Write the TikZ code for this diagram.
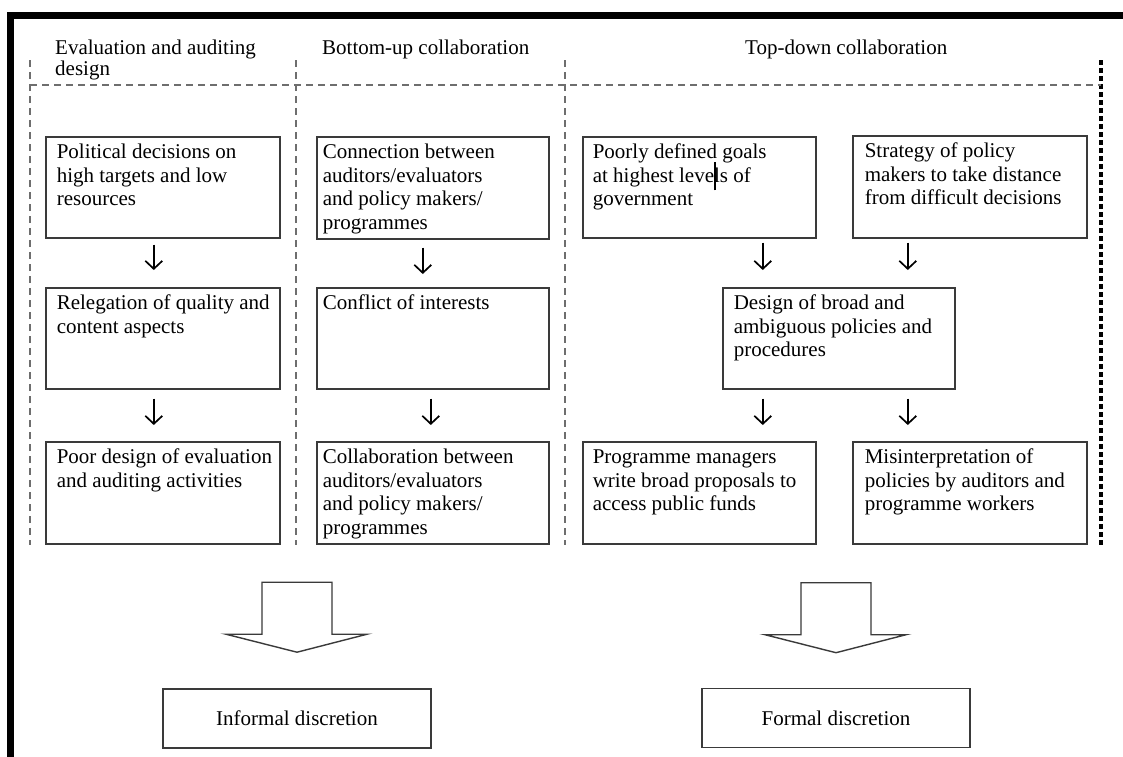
\documentclass[tikz,border=0pt]{standalone}
\usepackage{fontspec}
\setmainfont{Liberation Serif}
\usetikzlibrary{arrows.meta,calc}

\definecolor{boxline}{HTML}{3A3A3A}
\definecolor{sepline}{HTML}{6E6E6E}

% top-aligned box text: width, height, left indent, text
\newcommand\boxtext[4]{\parbox[c][#2][t]{#1}{\raggedright\leftskip=#3\relax
  \vspace*{5.5pt}\strut #4}}

\begin{document}
\begin{tikzpicture}[x=1pt,y=-1pt,
  every node/.style={font=\fontsize{21}{23.5}\selectfont, text=black},
  stepbox/.style={draw=boxline, line width=1.6pt, inner sep=0pt, anchor=north west},
  headtext/.style={inner sep=0pt, anchor=north west, align=left,
    font=\fontsize{21}{21.5}\selectfont},
  endbox/.style={draw=boxline, line width=1.6pt, inner sep=0pt,
    minimum width=268pt, minimum height=59pt},
  sarrow/.style={line width=1.7pt, draw=black,
    -{Straight Barb[length=8pt,width=17pt,line width=1.7pt]}},
  bigarrow/.style={draw=boxline, line width=1.4pt, fill=white, line join=miter},
  thinsep/.style={draw=sepline, line width=1.5pt, dash pattern=on 7pt off 5pt},
  thicksep/.style={draw=black, line width=4pt, dash pattern=on 5pt off 3pt},
]
\useasboundingbox (0,0) rectangle (1123,756);
\fill[white] (0,0) rectangle (1123,756);

% outer frame (top and left edges)
\draw[line width=7pt, line cap=rect] (10.5,770) -- (10.5,15.5) -- (1140,15.5);

% column separators
\draw[thinsep] (30,60) -- (30,545);
\draw[thinsep] (296,60) -- (296,545);
\draw[thinsep] (565,60) -- (565,545);
\draw[thicksep] (1101,60) -- (1101,545);
\draw[thinsep] (30,85) -- (1101,85);

% column headings
\node[headtext] (h1) at (55,39) {\strut Evaluation and auditing\\design};
\node[headtext] (h2) at (322,39) {\strut Bottom-up collaboration};
\node[headtext] (h3) at (745,39) {\strut Top-down collaboration};

% evaluation and auditing design
\node[stepbox] (p1) at (45,136) {\boxtext{234pt}{101pt}{11pt}{Political decisions on\\high targets and low\\resources}};
\node[stepbox] (p2) at (45,287) {\boxtext{234pt}{101pt}{11pt}{Relegation of quality and\\content aspects}};
\node[stepbox] (p3) at (45,441) {\boxtext{234pt}{102pt}{11pt}{Poor design of evaluation\\and auditing activities}};

% bottom-up collaboration
\node[stepbox] (c1) at (316,136) {\boxtext{232pt}{102pt}{6pt}{Connection between\\auditors/evaluators\\and policy makers/\\programmes}};
\node[stepbox] (c2) at (316,287) {\boxtext{232pt}{101pt}{6pt}{Conflict of interests}};
\node[stepbox] (c3) at (316,441) {\boxtext{232pt}{102pt}{6pt}{Collaboration between\\auditors/evaluators\\and policy makers/\\programmes}};

% top-down collaboration
\node[stepbox] (t1) at (582,136) {\boxtext{233pt}{101pt}{10pt}{Poorly defined goals\\at highest leve\rlap{\kern0.3pt\smash{\rule[-8pt]{1.4pt}{28pt}}}ls of\\government}};
\node[stepbox] (t2) at (852,135) {\boxtext{234pt}{102pt}{12pt}{Strategy of policy\\makers to take distance\\from difficult decisions}};
\node[stepbox] (tm) at (722,287) {\boxtext{232pt}{101pt}{11pt}{Design of broad and\\ambiguous policies and\\procedures}};
\node[stepbox] (b1) at (582,441) {\boxtext{233pt}{102pt}{10pt}{Programme managers\\write broad proposals to\\access public funds}};
\node[stepbox] (b2) at (852,441) {\boxtext{234pt}{102pt}{12pt}{Misinterpretation of\\policies by auditors and\\programme workers}};

% outcomes
\node[endbox] (inf) at (297,718.5) {Informal discretion};
\node[endbox] (frm) at (836,718) {Formal discretion};

% step arrows
\draw[sarrow] ([xshift=-9pt,yshift=-6pt]p1.south) -- ([xshift=-9pt,yshift=17pt]p2.north);
\draw[sarrow] ([xshift=-9pt,yshift=-9pt]p2.south) -- ([xshift=-9pt,yshift=16pt]p3.north);
\draw[sarrow] ([xshift=-10pt,yshift=-8pt]c1.south) -- ([xshift=-10pt,yshift=13pt]c2.north);
\draw[sarrow] ([xshift=-2pt,yshift=-9pt]c2.south) -- ([xshift=-2pt,yshift=16pt]c3.north);
\draw[sarrow] ([xshift=63.5pt,yshift=-4pt]t1.south) -- ([xshift=-76pt,yshift=17pt]tm.north);
\draw[sarrow] ([xshift=-62pt,yshift=-4pt]t2.south) -- ([xshift=69pt,yshift=17pt]tm.north);
\draw[sarrow] ([xshift=-76pt,yshift=-9pt]tm.south) -- ([xshift=63.5pt,yshift=16pt]b1.north);
\draw[sarrow] ([xshift=69pt,yshift=-9pt]tm.south) -- ([xshift=-62pt,yshift=16pt]b2.north);

% block arrows above the outcomes
\coordinate (ltip) at ($(inf.north)+(0,-36)$);
\coordinate (rtip) at ($(frm.north)+(0,-35)$);
\draw[bigarrow] ($(ltip)+(-35,-70)$) -- ($(ltip)+(35,-70)$) -- ($(ltip)+(35,-18)$)
  -- ($(ltip)+(70,-18)$) -- (ltip) -- ($(ltip)+(-71,-18)$) -- ($(ltip)+(-35,-18)$) -- cycle;
\draw[bigarrow] ($(rtip)+(-35,-70)$) -- ($(rtip)+(35,-70)$) -- ($(rtip)+(35,-18)$)
  -- ($(rtip)+(70,-18)$) -- (rtip) -- ($(rtip)+(-71,-18)$) -- ($(rtip)+(-35,-18)$) -- cycle;
\end{tikzpicture}
\end{document}
